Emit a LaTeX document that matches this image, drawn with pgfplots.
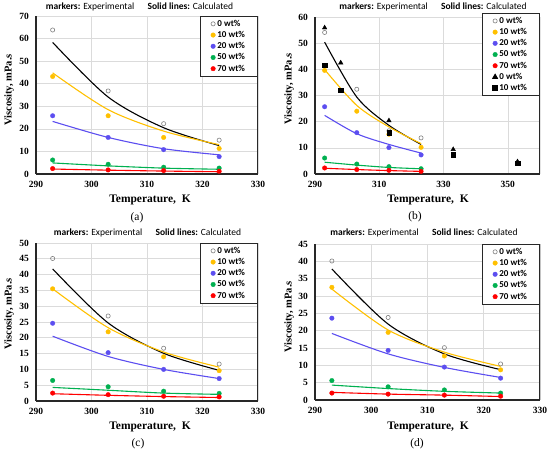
\documentclass[border=0pt]{standalone}
\usepackage{fontspec}
\setmainfont{Liberation Serif}
\newfontfamily\carlito{Carlito}
\usepackage{pgfplots}
\pgfplotsset{compat=1.18}
\definecolor{cgold}{RGB}{255,192,0}
\definecolor{cblue}{RGB}{92,78,240}
\definecolor{cgreen}{RGB}{0,176,80}
\definecolor{cred}{RGB}{255,0,0}
\definecolor{axc}{RGB}{40,40,40}
\pgfplotsset{
 vstyle/.style={
  scale only axis, anchor=south west,
  axis x line*=bottom, axis y line*=left,
  axis line style={axc, line width=1.1pt, -},
  grid=major, major grid style={black!14, line width=0.6pt},
  major tick length=0pt,
  ticklabel style={font=\bfseries\fontsize{9.5}{11}\selectfont},
  xticklabel style={yshift=-3.5pt},
  yticklabel style={xshift=-3.5pt},
  /pgf/number format/assume math mode=true,
  ymin=0, xmin=290,
  legend cell align=left,
  legend style={at={(1,1)}, anchor=north east, draw=axc, line width=1pt,
    font=\carlito\bfseries\fontsize{9}{10}\selectfont, inner xsep=10.5pt, inner ysep=1.5pt, row sep=-0.5pt},
  legend image code/.code={\draw[mark repeat=2,mark phase=2,##1] plot coordinates {(0cm,0cm)(0.22cm,0cm)(0.26cm,0cm)};},
 },
 cline/.style={smooth, line width=1.1pt, forget plot, no marks},
 m0/.style={only marks, mark=o, mark size=2.1pt, mark options={draw=gray, line width=0.6pt}},
 mf/.style={only marks, mark=*, mark size=2.3pt, mark options={draw=#1, fill=#1, line width=0.3pt}},
}
\newcommand{\rborder}{\draw[axc, line width=1.1pt] (rel axis cs:1,0) -- (rel axis cs:1,1);}
\newcommand{\ttl}[1]{\node[font=\carlito\fontsize{9.5}{11}\selectfont] at #1 {{\bfseries markers:} Experimental\hspace{1.4em}{\bfseries Solid lines:} Calculated};}
\begin{document}
\begin{tikzpicture}
\useasboundingbox (0,0) rectangle (550pt,452pt);
% ---------------- (a)
\begin{axis}[vstyle, at={(36pt,278pt)}, width=222pt, height=158pt,
  xmax=330, ymax=70, xtick={290,300,...,330}, ytick={0,10,...,70}]
\addplot[cline, black] coordinates {(293,58.3)(303,34.1)(313,20.5)(323,12.6)};
\addplot[cline, cgold] coordinates {(293,44.8)(303,28.5)(313,19.0)(323,13.0)};
\addplot[cline, cblue] coordinates {(293,23.3)(303,16.2)(313,11.2)(323,8.5)};
\addplot[cline, cgreen] coordinates {(293,4.9)(303,3.6)(313,2.6)(323,2.1)};
\addplot[cline, cred] coordinates {(293,2.2)(303,1.7)(313,1.3)(323,1.0)};
\addplot[m0] coordinates {(293,63.8)(303,36.8)(313,22.3)(323,15.0)};
\addplot[mf=cgold] coordinates {(293,43.2)(303,25.8)(313,16.2)(323,11.3)};
\addplot[mf=cblue] coordinates {(293,25.8)(303,16.2)(313,10.8)(323,7.7)};
\addplot[mf=cgreen] coordinates {(293,6.2)(303,4.3)(313,3.0)(323,2.6)};
\addplot[mf=cred] coordinates {(293,2.4)(303,1.8)(313,1.5)(323,1.2)};
\legend{0 wt\%,10 wt\%,20 wt\%,50 wt\%,70 wt\%}
\rborder
\end{axis}
% ---------------- (b)
\begin{axis}[vstyle, at={(315pt,278pt)}, width=225pt, height=157pt,
  xmax=360, ymax=60, xtick={290,310,...,350}, ytick={0,10,...,60},
  legend style={at={(1,1.025)}}]
\addplot[cline, black] coordinates {(293,50.4)(303,29.4)(313,18.6)(323,11.3)};
\addplot[cline, cgold] coordinates {(293,39.9)(303,26.2)(313,18.0)(323,11.6)};
\addplot[cline, cblue] coordinates {(293,22.4)(303,15.4)(313,11.3)(323,8.0)};
\addplot[cline, cgreen] coordinates {(293,4.5)(303,3.4)(313,2.5)(323,2.0)};
\addplot[cline, cred] coordinates {(293,2.2)(303,1.7)(313,1.3)(323,1.0)};
\addplot[m0] coordinates {(293,54.1)(303,32.4)(313,16.5)(323,13.8)};
\addplot[mf=cgold] coordinates {(293,39.6)(303,24.0)(313,15.2)(323,10.2)};
\addplot[mf=cblue] coordinates {(293,25.7)(303,15.8)(313,10.1)(323,7.3)};
\addplot[mf=cgreen] coordinates {(293,6.1)(303,3.8)(313,2.8)(323,2.0)};
\addplot[mf=cred] coordinates {(293,2.3)(303,1.7)(313,1.4)(323,1.0)};
\addplot[only marks, mark=triangle*, mark size=2.6pt, mark options={draw=black, fill=black}] coordinates {(293,55.9)(298,42.5)(313,20.4)(333,9.4)(353,4.7)};
\addplot[only marks, mark=square*, mark size=2.2pt, mark options={draw=black, fill=black}] coordinates {(293,41.5)(298,32.0)(313,15.8)(333,7.3)(353,4.1)};
\legend{0 wt\%,10 wt\%,20 wt\%,50 wt\%,70 wt\%,0 wt\%,10 wt\%}
\rborder
\end{axis}
% ---------------- (c)
\begin{axis}[vstyle, at={(36pt,51pt)}, width=222pt, height=158pt,
  xmax=330, ymax=50, xtick={290,300,...,330}, ytick={0,5,...,50}]
\addplot[cline, black] coordinates {(293,41.8)(303,24.7)(313,15.1)(323,9.7)};
\addplot[cline, cgold] coordinates {(293,35.5)(303,23.2)(313,15.5)(323,10.7)};
\addplot[cline, cblue] coordinates {(293,20.5)(303,14.1)(313,10.0)(323,7.1)};
\addplot[cline, cgreen] coordinates {(293,4.3)(303,3.4)(313,2.5)(323,2.1)};
\addplot[cline, cred] coordinates {(293,2.3)(303,1.8)(313,1.4)(323,1.1)};
\addplot[m0] coordinates {(293,45.1)(303,26.9)(313,16.7)(323,11.7)};
\addplot[mf=cgold] coordinates {(293,35.5)(303,21.9)(313,14.0)(323,9.6)};
\addplot[mf=cblue] coordinates {(293,24.6)(303,15.3)(313,10.0)(323,7.1)};
\addplot[mf=cgreen] coordinates {(293,6.5)(303,4.5)(313,3.1)(323,2.4)};
\addplot[mf=cred] coordinates {(293,2.5)(303,2.0)(313,1.5)(323,1.3)};
\legend{0 wt\%,10 wt\%,20 wt\%,50 wt\%,70 wt\%}
\rborder
\end{axis}
% ---------------- (d)
\begin{axis}[vstyle, at={(315pt,52pt)}, width=225pt, height=156pt,
  xmax=330, ymax=45, xtick={290,300,...,330}, ytick={0,5,...,45}]
\addplot[cline, black] coordinates {(293,37.8)(303,21.9)(313,13.3)(323,8.75)};
\addplot[cline, cgold] coordinates {(293,32.0)(303,20.2)(313,13.8)(323,9.7)};
\addplot[cline, cblue] coordinates {(293,19.2)(303,13.3)(313,9.4)(323,6.5)};
\addplot[cline, cgreen] coordinates {(293,4.3)(303,3.3)(313,2.5)(323,2.0)};
\addplot[cline, cred] coordinates {(293,2.2)(303,1.7)(313,1.4)(323,1.0)};
\addplot[m0] coordinates {(293,40.1)(303,23.8)(313,15.1)(323,10.4)};
\addplot[mf=cgold] coordinates {(293,32.5)(303,19.5)(313,12.7)(323,8.7)};
\addplot[mf=cblue] coordinates {(293,23.6)(303,14.3)(313,9.5)(323,6.3)};
\addplot[mf=cgreen] coordinates {(293,5.6)(303,3.8)(313,2.9)(323,2.0)};
\addplot[mf=cred] coordinates {(293,2.0)(303,1.7)(313,1.4)(323,1.1)};
\legend{0 wt\%,10 wt\%,20 wt\%,50 wt\%,70 wt\%}
\rborder
\end{axis}
% ---------------- texts
\ttl{(139.5pt,445pt)}
\ttl{(433pt,445pt)}
\ttl{(147.5pt,219pt)}
\ttl{(424pt,219pt)}
\foreach \xx/\yy in {150/252,428/252,150/25,428/25}
  \node[font=\bfseries\fontsize{11.5}{13}\selectfont] at (\xx pt,\yy pt) {Temperature,\ \ K};
\foreach \xx/\yy in {9/362,289/363,9/138,289/135}
  \node[rotate=90, font=\bfseries\fontsize{10.5}{12}\selectfont] at (\xx pt,\yy pt) {Viscosity, mPa.s};
\node[font=\fontsize{11.5}{13}\selectfont] at (137pt,234pt) {(a)};
\node[font=\fontsize{11.5}{13}\selectfont] at (415pt,235pt) {(b)};
\node[font=\fontsize{11.5}{13}\selectfont] at (138pt,8pt) {(c)};
\node[font=\fontsize{11.5}{13}\selectfont] at (417pt,8pt) {(d)};
\end{tikzpicture}
\end{document}
